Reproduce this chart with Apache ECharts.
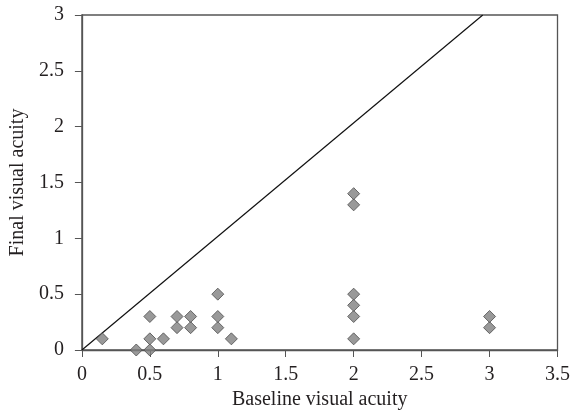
<!DOCTYPE html>
<html>
<head>
<meta charset="utf-8">
<script src="https://cdn.jsdelivr.net/npm/echarts@6/dist/echarts.min.js"></script>
<style>
html, body { margin: 0; padding: 0; background: #fff; }
#main { width: 573px; height: 415px; }
</style>
</head>
<body>
<div id="main"></div>
<script>
// baseline / final visual acuity pairs
var baseline = [0.15, 0.4, 0.5, 0.5, 0.5, 0.6, 0.7, 0.7, 0.8, 0.8, 1, 1, 1, 1.1, 2, 2, 2, 2, 2, 2, 3, 3];
var finalVA  = [0.1, 0, 0, 0.1, 0.3, 0.1, 0.2, 0.3, 0.2, 0.3, 0.2, 0.3, 0.5, 0.1, 0.1, 0.3, 0.4, 0.5, 1.3, 1.4, 0.2, 0.3];
var refLineX = [0, 2.95];
var refLineY = [0, 3];

var points = baseline.map(function (x, i) { return [x, finalVA[i]]; });
var refLine = refLineX.map(function (x, i) { return [x, refLineY[i]]; });

var font = 'Liberation Serif';
var myChart = echarts.init(document.getElementById('main'));
myChart.setOption({
    animation: false,
    grid: {
        left: 81, right: 13, top: 15, bottom: 65,
        show: true, borderColor: '#555', borderWidth: 1.3, backgroundColor: 'transparent'
    },
    xAxis: {
        type: 'value', min: 0, max: 3.5, interval: 0.5,
        name: 'Baseline visual acuity', nameLocation: 'middle', nameGap: 37,
        nameTextStyle: { fontFamily: font, fontSize: 20, color: '#231f20' },
        axisLine: { show: true, lineStyle: { color: '#555', width: 1.3 } },
        axisTick: { show: true, inside: false, length: 7, lineStyle: { color: '#555' } },
        axisLabel: { fontFamily: font, fontSize: 20, color: '#231f20', margin: 15 },
        splitLine: { show: false }
    },
    yAxis: {
        type: 'value', min: 0, max: 3, interval: 0.5,
        name: 'Final visual acuity', nameLocation: 'middle', nameGap: 45,
        nameTextStyle: { fontFamily: font, fontSize: 20, color: '#231f20' },
        axisLine: { show: true, lineStyle: { color: '#555', width: 1.3 } },
        axisTick: { show: true, inside: false, length: 7, lineStyle: { color: '#555' } },
        axisLabel: { fontFamily: font, fontSize: 20, color: '#231f20', margin: 18 },
        splitLine: { show: false }
    },
    series: [
        {
            type: 'line',
            data: refLine,
            symbol: 'none',
            lineStyle: { color: '#111', width: 1.2 },
            z: 1
        },
        {
            type: 'scatter',
            data: points,
            symbol: 'diamond',
            symbolSize: 12,
            itemStyle: { color: '#7f7f7f', borderColor: '#4d4d4d', borderWidth: 1 },
            z: 2
        }
    ]
});
</script>
</body>
</html>
